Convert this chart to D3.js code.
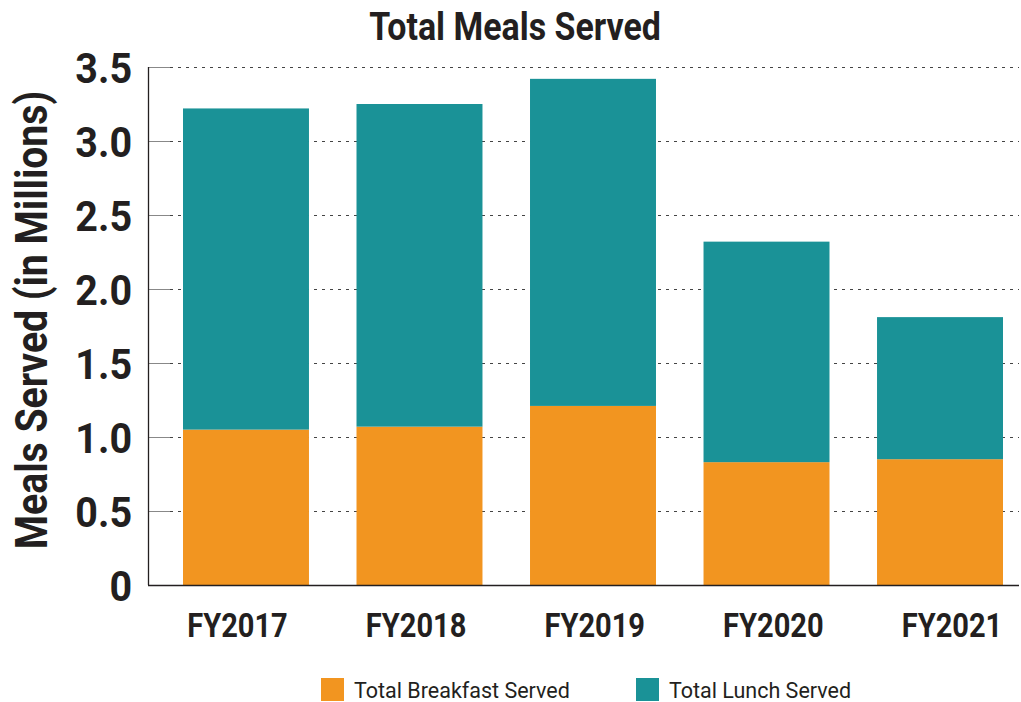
<!DOCTYPE html>
<html>
<head>
<meta charset="utf-8">
<script src="https://cdn.jsdelivr.net/npm/d3@7"></script>
<style>
  body { margin: 0; background: #fff; }
  svg { display: block; }
  text { font-family: "Liberation Sans Narrow", "Roboto", "Liberation Sans", sans-serif; fill: #231f20; }
</style>
</head>
<body>
<svg id="chart" width="1021" height="702"></svg>
<script>
// data (millions of meals)
var years = ["FY2017", "FY2018", "FY2019", "FY2020", "FY2021"];
var breakfast = [1.05, 1.07, 1.21, 0.83, 0.85];
var lunch = [2.17, 2.18, 2.21, 1.49, 0.96];
var yTicks = [0, 0.5, 1.0, 1.5, 2.0, 2.5, 3.0, 3.5];
var seriesNames = ["Total Breakfast Served", "Total Lunch Served"];
var colors = ["#f29520", "#1a9297"];

var svg = d3.select("#chart");
var margin = {left: 148, right: 2, top: 67, bottom: 117};
var width = 1021 - margin.left - margin.right,
    height = 702 - margin.top - margin.bottom;

var rows = years.map(function(y, i) {
  return {year: y, breakfast: breakfast[i], lunch: lunch[i]};
});
var layers = d3.stack().keys(["breakfast", "lunch"])(rows);

// bars don't sit symmetric in the plot, so the band range is inset
var x = d3.scaleBand().domain(years).range([35, 855]).paddingInner(0.274).paddingOuter(0);
// the category labels are spaced a bit wider than the bars in the original
var xLabel = d3.scalePoint().domain(years).range([89, 803.5]);
var y = d3.scaleLinear().domain([0, 3.5]).range([height, 0]);

var g = svg.append("g").attr("transform", "translate(" + margin.left + "," + margin.top + ")");

var gridTicks = yTicks.filter(function(d) { return d > 0; });

// dotted gridlines
g.append("g")
  .selectAll("line")
  .data(gridTicks)
  .enter().append("line")
  .attr("x1", 22).attr("x2", width)
  .attr("y1", function(d) { return Math.round(y(d)) + 0.5; })
  .attr("y2", function(d) { return Math.round(y(d)) + 0.5; })
  .attr("stroke", "#444")
  .attr("stroke-width", 1)
  .attr("stroke-dasharray", "3,5");

// short solid stubs next to the axis
g.append("g")
  .selectAll("line")
  .data(gridTicks)
  .enter().append("line")
  .attr("x1", 0).attr("x2", 22)
  .attr("y1", function(d) { return Math.round(y(d)) + 0.5; })
  .attr("y2", function(d) { return Math.round(y(d)) + 0.5; })
  .attr("stroke", "#888")
  .attr("stroke-width", 1);

// stacked bars
g.append("g")
  .selectAll("g")
  .data(layers)
  .enter().append("g")
  .attr("fill", function(d, i) { return colors[i]; })
  .selectAll("rect")
  .data(function(d) { return d; })
  .enter().append("rect")
  .attr("x", function(d) { return x(d.data.year); })
  .attr("width", x.bandwidth())
  .attr("y", function(d) { return y(d[1]); })
  .attr("height", function(d) { return y(d[0]) - y(d[1]); });

// y axis labels
var yAxis = g.append("g")
  .call(d3.axisLeft(y).tickValues(yTicks).tickSize(0).tickPadding(17)
    .tickFormat(function(d) { return d === 0 ? "0" : d3.format(".1f")(d); }));
yAxis.select(".domain").remove();
yAxis.selectAll("text")
  .attr("font-size", 42).attr("font-weight", "bold")
  .attr("dy", "0.36em")
  .attr("transform", "scale(0.94,1)")
  .attr("fill", "#231f20");

// axis lines
g.append("line").attr("x1", 0.5).attr("x2", 0.5).attr("y1", 0).attr("y2", height)
  .attr("stroke", "#231f20").attr("stroke-width", 1.3);
g.append("line").attr("x1", 0).attr("x2", width).attr("y1", height + 0.5).attr("y2", height + 0.5)
  .attr("stroke", "#231f20").attr("stroke-width", 1.3);

// x axis labels
var xAxis = g.append("g").attr("transform", "translate(0," + height + ")")
  .call(d3.axisBottom(xLabel).tickSize(0).tickPadding(0));
xAxis.select(".domain").remove();
xAxis.selectAll("text")
  .attr("y", 52).attr("dy", 0)
  .attr("font-size", 33).attr("font-weight", "bold")
  .attr("transform", "scale(0.88,1)")
  .attr("fill", "#231f20");

// title
svg.append("text")
  .attr("transform", "translate(515,40) scale(0.87,1)")
  .attr("text-anchor", "middle")
  .attr("font-size", 39).attr("font-weight", "bold")
  .text("Total Meals Served");

// y axis title
svg.append("text")
  .attr("transform", "translate(47,320) rotate(-90) scale(0.89,1)")
  .attr("text-anchor", "middle")
  .attr("font-size", 44).attr("font-weight", "bold")
  .text("Meals Served (in Millions)");

// legend
var legendX = [321, 636];
var legend = svg.append("g").selectAll("g")
  .data(seriesNames)
  .enter().append("g")
  .attr("transform", function(d, i) { return "translate(" + legendX[i] + ",678)"; });
legend.append("rect")
  .attr("width", 23).attr("height", 23)
  .attr("fill", function(d, i) { return colors[i]; });
legend.append("text")
  .attr("x", 33).attr("y", 20)
  .attr("font-size", 21.5)
  .text(function(d) { return d; });
</script>
</body>
</html>
